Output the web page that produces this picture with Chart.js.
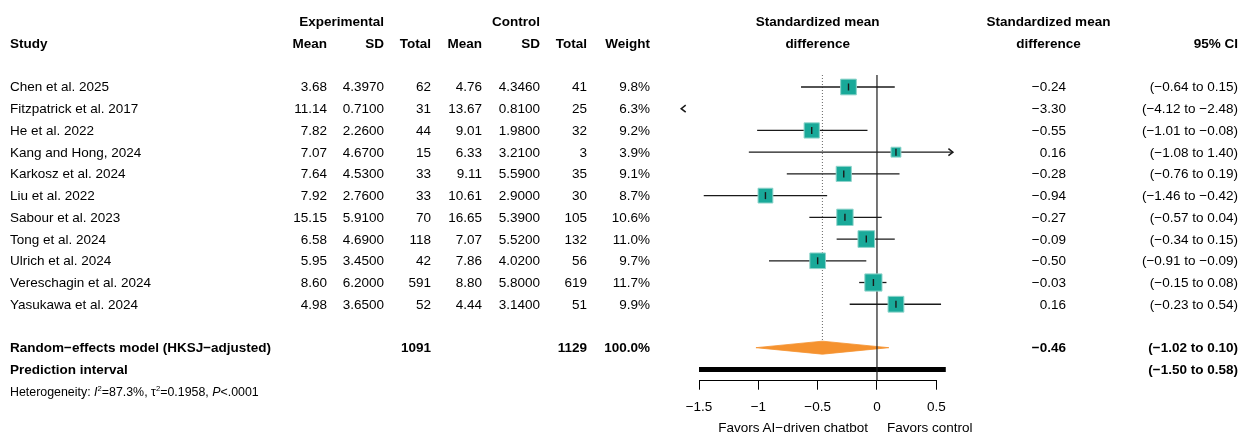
<!DOCTYPE html>
<html lang="en">
<head>
<meta charset="utf-8">
<title>Forest plot – AI-driven chatbot vs control</title>
<script src="https://cdn.jsdelivr.net/npm/chart.js@4.4.1/dist/chart.umd.min.js"></script>
<style>
  html, body { margin: 0; padding: 0; background: #fff; }
  #stage { position: relative; width: 1247px; height: 438px; overflow: hidden;
           font-family: "Liberation Sans", Arial, Helvetica, sans-serif; font-size: 13.5px; color: #000; }
  #plot { position: absolute; left: 0; top: 0; }
  .lbl { position: absolute; white-space: nowrap; line-height: 1; }
  .bold { font-weight: bold; }
  .small { font-size: 12.4px; }
  .small sup { font-size: 0.62em; vertical-align: 0; position: relative; top: -0.55em; }
</style>
</head>
<body>
<div id="stage"><canvas id="plot" width="1247" height="438"></canvas></div>
<script>
// ---- study data ----
const studyNames = ["Chen et al. 2025", "Fitzpatrick et al. 2017", "He et al. 2022", "Kang and Hong, 2024",
  "Karkosz et al. 2024", "Liu et al. 2022", "Sabour et al. 2023", "Tong et al. 2024",
  "Ulrich et al. 2024", "Vereschagin et al. 2024", "Yasukawa et al. 2024"];
const expMean = [3.68, 11.14, 7.82, 7.07, 7.64, 7.92, 15.15, 6.58, 5.95, 8.60, 4.98];
const expSD   = [4.397, 0.71, 2.26, 4.67, 4.53, 2.76, 5.91, 4.69, 3.45, 6.20, 3.65];
const expN    = [62, 31, 44, 15, 33, 33, 70, 118, 42, 591, 52];
const ctlMean = [4.76, 13.67, 9.01, 6.33, 9.11, 10.61, 16.65, 7.07, 7.86, 8.80, 4.44];
const ctlSD   = [4.346, 0.81, 1.98, 3.21, 5.59, 2.90, 5.39, 5.52, 4.02, 5.80, 3.14];
const ctlN    = [41, 25, 32, 3, 35, 30, 105, 132, 56, 619, 51];
const weight  = [9.8, 6.3, 9.2, 3.9, 9.1, 8.7, 10.6, 11.0, 9.7, 11.7, 9.9];
const smd     = [-0.24, -3.30, -0.55, 0.16, -0.28, -0.94, -0.27, -0.09, -0.50, -0.03, 0.16];
const ciLow   = [-0.64, -4.12, -1.01, -1.08, -0.76, -1.46, -0.57, -0.34, -0.91, -0.15, -0.23];
const ciHigh  = [0.15, -2.48, -0.08, 1.40, 0.19, -0.42, 0.04, 0.15, -0.09, 0.08, 0.54];

// ---- pooled estimate, prediction interval, heterogeneity ----
const pooledLabel = "Random\u2212effects model (HKSJ\u2212adjusted)";
const pooledSMD = -0.46, pooledLow = -1.02, pooledHigh = 0.10;
const pooledExpN = 1091, pooledCtlN = 1129, pooledWeight = 100.0;
const predLabel = "Prediction interval";
const predLow = -1.50, predHigh = 0.58;
const hetI2 = 87.3, hetTau2 = 0.1958, hetP = "<.0001";

// ---- axis ----
const axisTicks = [-1.5, -1, -0.5, 0, 0.5];
const favorsLeft = "Favors AI\u2212driven chatbot";
const favorsRight = "Favors control";

// ---- layout ----
const W = 1247, H = 438;
const FONT = "'Liberation Sans', Arial, Helvetica, sans-serif";
const X_RANGE = [-1.5, 0.5];     // drawn axis extent
const X_LIMITS = [-1.65, 0.64];  // intervals beyond these are cut and marked with arrows
const Y_TOP = 0.448, Y_BOTTOM = 14.52;
const ROW_POOLED = 13, ROW_PRED = 14, ROW_HET = 15;
const DIAMOND_HALF = 0.3;
const PLOT_LEFT = 699, PLOT_RIGHT = 936.3, PLOT_TOP = 75, PLOT_BOTTOM = 380.7, X_AXIS_H = 35;
const COL = { study: 10, eMean: 327, eSD: 384, eN: 431, cMean: 482, cSD: 540, cN: 587,
              weight: 650, smd: 1066, ci: 1238, smdHead: 1048.5 };
const TEAL = '#19a999', TEAL_EDGE = '#8fd4cb', ORANGE = '#f5922f', INK = '#1a1a1a';

const minus = s => s.replace(/-/g, '\u2212');
const fx = (v, d) => minus(v.toFixed(d));
const ciText = (lo, hi) => '(' + fx(lo, 2) + ' to ' + fx(hi, 2) + ')';
const rows = studyNames.map((_, i) => i + 1);

// ---- datasets ----
const datasets = [];

// zero line and pooled-estimate reference line
datasets.push({ type: 'line', data: [{ x: 0, y: Y_TOP }, { x: 0, y: Y_BOTTOM }],
  borderColor: INK, borderWidth: 1.2, pointRadius: 0, order: 7, clip: false });
datasets.push({ type: 'line', data: [{ x: pooledSMD, y: Y_TOP }, { x: pooledSMD, y: ROW_POOLED - DIAMOND_HALF }],
  borderColor: '#666', borderWidth: 1, borderDash: [1, 2], pointRadius: 0, order: 9, clip: false });

// confidence intervals, cut at the plot limits
studyNames.forEach((_, i) => {
  const lo = Math.max(ciLow[i], X_LIMITS[0]);
  const hi = Math.min(ciHigh[i], X_LIMITS[1]);
  if (lo >= hi) return;
  datasets.push({ type: 'line', data: [{ x: lo, y: rows[i] }, { x: hi, y: rows[i] }],
    borderColor: INK, borderWidth: 1.3, pointRadius: 0, order: 8, clip: false });
});

// weighted squares and estimate ticks
const shown = rows.map((_, i) => i).filter(i => smd[i] >= X_LIMITS[0] && smd[i] <= X_LIMITS[1]);
datasets.push({ type: 'scatter', data: shown.map(i => ({ x: smd[i], y: rows[i], w: weight[i] })),
  pointStyle: 'rect', pointRadius: ctx => 3.55 * Math.sqrt(ctx.raw.w),
  pointBackgroundColor: TEAL, pointBorderColor: TEAL_EDGE, pointBorderWidth: 1, order: 5, clip: false });
datasets.push({ type: 'scatter', data: shown.map(i => ({ x: smd[i], y: rows[i] })),
  pointStyle: 'line', pointRotation: 90, pointRadius: 3.5,
  pointBorderColor: INK, pointBorderWidth: 1.4, order: 4, clip: false });

// pooled diamond (upper half filled down to lower half)
datasets.push({ type: 'line', data: [{ x: pooledLow, y: ROW_POOLED }, { x: pooledSMD, y: ROW_POOLED - DIAMOND_HALF }, { x: pooledHigh, y: ROW_POOLED }],
  borderColor: ORANGE, borderWidth: 0.8, backgroundColor: ORANGE, fill: '+1', tension: 0, pointRadius: 0, order: 8, clip: false });
datasets.push({ type: 'line', data: [{ x: pooledLow, y: ROW_POOLED }, { x: pooledSMD, y: ROW_POOLED + DIAMOND_HALF }, { x: pooledHigh, y: ROW_POOLED }],
  borderColor: ORANGE, borderWidth: 0.8, fill: false, tension: 0, pointRadius: 0, order: 8, clip: false });

// prediction interval bar
datasets.push({ type: 'line', data: [{ x: predLow, y: ROW_PRED }, { x: predHigh, y: ROW_PRED }],
  borderColor: '#000', borderWidth: 5, borderCapStyle: 'butt', pointRadius: 0, order: 8, clip: false });

// arrows for intervals running past the plot limits
const truncationMarks = {
  id: 'truncationMarks',
  afterDatasetsDraw(chart) {
    const { ctx, scales: { x, y } } = chart;
    const chevron = (px, py, dir) => {
      ctx.beginPath();
      ctx.moveTo(px + dir * 4.5, py - 3.5);
      ctx.lineTo(px, py);
      ctx.lineTo(px + dir * 4.5, py + 3.5);
      ctx.stroke();
    };
    ctx.save();
    ctx.strokeStyle = INK; ctx.lineWidth = 1.5; ctx.lineJoin = 'miter';
    studyNames.forEach((_, i) => {
      const py = y.getPixelForValue(rows[i]);
      if (ciHigh[i] > X_LIMITS[1]) chevron(x.getPixelForValue(X_LIMITS[1]), py, -1);
      if (ciLow[i] < X_LIMITS[0]) chevron(x.getPixelForValue(X_LIMITS[0]), py, 1);
    });
    ctx.restore();
  }
};

const chart = new Chart(document.getElementById('plot'), {
  type: 'scatter',
  data: { datasets },
  options: {
    responsive: false,
    animation: false,
    events: [],
    layout: { padding: { left: PLOT_LEFT, right: W - PLOT_RIGHT, top: PLOT_TOP, bottom: H - PLOT_BOTTOM - X_AXIS_H } },
    plugins: { legend: { display: false }, tooltip: { enabled: false } },
    scales: {
      x: {
        type: 'linear', position: 'bottom', min: X_RANGE[0], max: X_RANGE[1],
        afterBuildTicks: s => { s.ticks = axisTicks.map(v => ({ value: v })); },
        afterFit: s => { s.height = X_AXIS_H; },
        ticks: { callback: v => (v === 0 ? '0' : minus(String(v))), color: '#000',
                 font: { family: FONT, size: 13.5 }, padding: 9, maxRotation: 0, autoSkip: false },
        grid: { drawOnChartArea: false, drawTicks: true, tickLength: 9, color: '#000', lineWidth: 1 },
        border: { display: true, color: '#000', width: 1 }
      },
      y: { type: 'linear', reverse: true, min: Y_TOP, max: Y_BOTTOM, display: false }
    }
  },
  plugins: [truncationMarks]
});

// ---- table text ----
const stage = document.getElementById('stage');
function put(html, x, y, align, cls) {
  const el = document.createElement('div');
  el.className = 'lbl' + (cls ? ' ' + cls : '');
  el.innerHTML = html;
  el.style.top = y + 'px';
  if (align === 'right') { el.style.right = (W - x) + 'px'; el.style.transform = 'translateY(-50%)'; }
  else if (align === 'center') { el.style.left = x + 'px'; el.style.transform = 'translate(-50%, -50%)'; }
  else { el.style.left = x + 'px'; el.style.transform = 'translateY(-50%)'; }
  stage.appendChild(el);
}
const ys = chart.scales.y, xs = chart.scales.x;
const rowY = r => ys.getPixelForValue(r) + 0.5;
const plotCenter = (xs.left + xs.right) / 2;

// headers
put('Experimental', COL.eSD, rowY(-2), 'right', 'bold');
put('Control', COL.cSD, rowY(-2), 'right', 'bold');
put('Standardized mean', plotCenter, rowY(-2), 'center', 'bold');
put('Standardized mean', COL.smdHead, rowY(-2), 'center', 'bold');
put('Study', COL.study, rowY(-1), 'left', 'bold');
put('Mean', COL.eMean, rowY(-1), 'right', 'bold');
put('SD', COL.eSD, rowY(-1), 'right', 'bold');
put('Total', COL.eN, rowY(-1), 'right', 'bold');
put('Mean', COL.cMean, rowY(-1), 'right', 'bold');
put('SD', COL.cSD, rowY(-1), 'right', 'bold');
put('Total', COL.cN, rowY(-1), 'right', 'bold');
put('Weight', COL.weight, rowY(-1), 'right', 'bold');
put('difference', plotCenter, rowY(-1), 'center', 'bold');
put('difference', COL.smdHead, rowY(-1), 'center', 'bold');
put('95% CI', COL.ci, rowY(-1), 'right', 'bold');

// study rows
studyNames.forEach((name, i) => {
  const y = rowY(rows[i]);
  put(name, COL.study, y, 'left');
  put(expMean[i].toFixed(2), COL.eMean, y, 'right');
  put(expSD[i].toFixed(4), COL.eSD, y, 'right');
  put(String(expN[i]), COL.eN, y, 'right');
  put(ctlMean[i].toFixed(2), COL.cMean, y, 'right');
  put(ctlSD[i].toFixed(4), COL.cSD, y, 'right');
  put(String(ctlN[i]), COL.cN, y, 'right');
  put(weight[i].toFixed(1) + '%', COL.weight, y, 'right');
  put(fx(smd[i], 2), COL.smd, y, 'right');
  put(ciText(ciLow[i], ciHigh[i]), COL.ci, y, 'right');
});

// pooled and prediction rows
put(pooledLabel, COL.study, rowY(ROW_POOLED), 'left', 'bold');
put(String(pooledExpN), COL.eN, rowY(ROW_POOLED), 'right', 'bold');
put(String(pooledCtlN), COL.cN, rowY(ROW_POOLED), 'right', 'bold');
put(pooledWeight.toFixed(1) + '%', COL.weight, rowY(ROW_POOLED), 'right', 'bold');
put(fx(pooledSMD, 2), COL.smd, rowY(ROW_POOLED), 'right', 'bold');
put(ciText(pooledLow, pooledHigh), COL.ci, rowY(ROW_POOLED), 'right', 'bold');
put(predLabel, COL.study, rowY(ROW_PRED), 'left', 'bold');
put(ciText(predLow, predHigh), COL.ci, rowY(ROW_PRED), 'right', 'bold');

// heterogeneity
put('Heterogeneity: <i>I</i><sup>2</sup>=' + hetI2.toFixed(1) + '%, \u03c4<sup>2</sup>=' + hetTau2.toFixed(4) +
    ', <i>P</i>' + hetP.replace('<', '&lt;'), COL.study, rowY(ROW_HET), 'left', 'small');

// axis direction labels
const zeroPx = xs.getPixelForValue(0);
put(favorsLeft, zeroPx - 9, 428, 'right');
put(favorsRight, zeroPx + 10, 428, 'left');
</script>
</body>
</html>
